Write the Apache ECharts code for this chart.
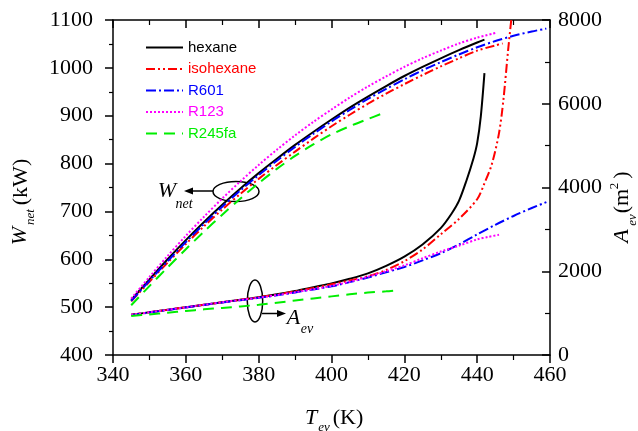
<!DOCTYPE html>
<html>
<head>
<meta charset="utf-8">
<script src="https://cdn.jsdelivr.net/npm/echarts@6/dist/echarts.min.js"></script>
<style>html,body{margin:0;padding:0;background:#fff}#c{width:638px;height:431px}</style>
</head>
<body>
<div id="c"></div>
<script>
// ---- data (T_ev in K) ----
const xTicks = [340, 360, 380, 400, 420, 440, 460];
const wTicks = [400, 500, 600, 700, 800, 900, 1000, 1100];
const aTicks = [0, 2000, 4000, 6000, 8000];
const fluids = ['hexane', 'isohexane', 'R601', 'R123', 'R245fa'];

// W_net (kW) vs T_ev
const hexaneW = [[345,515],[350,558],[355,600],[360,640],[365,678],[370,714],[375,748],[380,780],[385,810],[390,839],[395,866],[400,892],[405,917],[410,940],[415,962],[420,983],[425,1002],[430,1020],[435,1037],[440,1053],[442,1059]];
const isohexaneW = [[345,512],[350,553],[355,593],[360,632],[365,669],[370,704],[375,737],[380,768],[385,797],[390,825],[395,852],[400,878],[405,902],[410,925],[415,946],[420,966],[425,985],[430,1003],[435,1020],[440,1036],[445,1047],[447,1051]];
const r601W = [[345,513],[350,555],[355,596],[360,636],[365,674],[370,710],[375,744],[380,776],[385,806],[390,835],[395,862],[400,888],[405,912],[410,935],[415,956],[420,976],[425,995],[430,1012],[435,1028],[440,1043],[445,1056],[450,1067],[455,1076],[459,1082]];
const r123W = [[345,518],[350,563],[355,607],[360,649],[365,689],[370,727],[375,763],[380,797],[385,829],[390,859],[395,887],[400,913],[405,938],[410,961],[415,982],[420,1002],[425,1020],[430,1036],[435,1051],[440,1063],[445,1073]];
const r245faW = [[345,504],[350,544],[355,583],[360,621],[365,658],[370,693],[375,727],[380,759],[385,789],[390,816],[395,840],[400,861],[405,878],[410,893],[414,905]];

// A_ev (m^2) vs T_ev
const hexaneA = [[345,960],[350,1020],[355,1080],[360,1140],[365,1200],[370,1260],[375,1320],[380,1380],[385,1450],[390,1530],[395,1620],[400,1710],[405,1820],[410,1950],[415,2130],[420,2350],[425,2640],[430,3030],[433,3380],[435,3680],[437,4150],[439,4700],[440,5060],[441,5700],[442,6730]];
const isohexaneA = [[345,960],[350,1020],[355,1080],[360,1140],[365,1200],[370,1260],[375,1320],[380,1380],[385,1445],[390,1520],[395,1600],[400,1690],[405,1780],[410,1880],[415,2030],[420,2240],[425,2520],[430,2880],[435,3250],[440,3720],[442,4100],[444,4550],[446,5300],[447.2,6090],[448.5,7280],[449.6,8200]];
const r601A = [[345,955],[350,1015],[355,1075],[360,1135],[365,1195],[370,1255],[375,1310],[380,1365],[385,1425],[390,1495],[395,1565],[400,1640],[405,1740],[410,1850],[415,1975],[420,2100],[425,2260],[430,2430],[435,2640],[440,2880],[445,3110],[450,3320],[455,3510],[459,3650]];
const r123A = [[345,960],[350,1020],[355,1080],[360,1140],[365,1200],[370,1260],[375,1315],[380,1370],[385,1430],[390,1500],[395,1570],[400,1650],[405,1750],[410,1870],[415,2000],[420,2140],[425,2310],[430,2470],[435,2610],[440,2760],[443,2820],[446,2870]];
const r245faA = [[345,930],[350,970],[355,1010],[360,1050],[365,1090],[370,1125],[375,1160],[380,1200],[385,1250],[390,1300],[395,1350],[400,1400],[405,1450],[410,1490],[415,1520],[417,1536]];

// ---- styles ----
const colors = {hexane:'#000000', isohexane:'#ff0000', R601:'#0000ff', R123:'#ff00ff', R245fa:'#00ee00'};
const dashes = {hexane:'solid', isohexane:[9,3,2,3,2,3], R601:[10,3,2,3], R123:[2,2], R245fa:[11,7]};
const wData = {hexane:hexaneW, isohexane:isohexaneW, R601:r601W, R123:r123W, R245fa:r245faW};
const aData = {hexane:hexaneA, isohexane:isohexaneA, R601:r601A, R123:r123A, R245fa:r245faA};

const serif = '"Liberation Serif", "Times New Roman", serif';
const sans = '"Liberation Sans", Arial, sans-serif';

const series = [];
fluids.forEach(f => {
  const base = {type:'line', name:f, showSymbol:false, symbol:'none', smooth:0.3,
    lineStyle:{color:colors[f], width:2, type:dashes[f]}, itemStyle:{color:colors[f]}, animation:false, clip:true};
  series.push(Object.assign({}, base, {xAxisIndex:0, yAxisIndex:0, data:wData[f]}));
  series.push(Object.assign({}, base, {xAxisIndex:0, yAxisIndex:1, data:aData[f]}));
});

const axisLine = {show:true, lineStyle:{color:'#000', width:1.5}};
const plain = v => String(v);
const chart = echarts.init(document.getElementById('c'), null, {renderer:'canvas'});

function txt(x, y, s, font, rot, align) {
  return {type:'text', x:x, y:y, rotation:rot||0, style:{text:s, font:font, fill:'#000', align:align||'center', verticalAlign:'middle'}, silent:true};
}
const R = Math.PI/2;

chart.setOption({
  animation:false,
  grid:{left:113, right:88, top:20, bottom:76},
  legend:{
    orient:'vertical', left:145, top:40, itemWidth:37, itemHeight:14, itemGap:6.5,
    itemStyle:{opacity:0, borderWidth:0},
    data: fluids.map(f => ({name:f, textStyle:{color:colors[f], fontFamily:sans, fontSize:15}})),
    textStyle:{fontFamily:sans, fontSize:15}, padding:0
  },
  xAxis:[
    {type:'value', min:xTicks[0], max:xTicks[xTicks.length-1], interval:20, position:'bottom',
     axisLine:axisLine, splitLine:{show:false},
     axisTick:{show:true, inside:false, length:8, lineStyle:{color:'#000', width:1.5}},
     minorTick:{show:true, splitNumber:2, length:5, lineStyle:{color:'#000', width:1.2}},
     axisLabel:{fontFamily:serif, fontSize:22, color:'#000', margin:9, formatter:plain}},
    {type:'value', min:xTicks[0], max:xTicks[xTicks.length-1], interval:20, position:'top',
     axisLine:axisLine, splitLine:{show:false},
     axisTick:{show:true, inside:true, length:8, lineStyle:{color:'#000', width:1.5}},
     minorTick:{show:true, splitNumber:2, length:5, lineStyle:{color:'#000', width:1.2}},
     axisLabel:{show:false}}
  ],
  yAxis:[
    {type:'value', min:wTicks[0], max:wTicks[wTicks.length-1], interval:100, position:'left',
     axisLine:axisLine, splitLine:{show:false},
     axisTick:{show:true, inside:false, length:8, lineStyle:{color:'#000', width:1.5}},
     minorTick:{show:true, splitNumber:2, length:4, lineStyle:{color:'#000', width:1.2}},
     axisLabel:{fontFamily:serif, fontSize:22, color:'#000', margin:20, formatter:plain}},
    {type:'value', min:aTicks[0], max:aTicks[aTicks.length-1], interval:2000, position:'right',
     axisLine:axisLine, splitLine:{show:false},
     axisTick:{show:true, inside:true, length:8, lineStyle:{color:'#000', width:1.5}},
     minorTick:{show:true, splitNumber:2, length:5, lineStyle:{color:'#000', width:1.2}},
     axisLabel:{fontFamily:serif, fontSize:22, color:'#000', margin:8, formatter:plain}}
  ],
  series: series,
  graphic:[
    // axis titles
    txt(20, 236, 'W', 'italic 22px ' + serif, R),
    txt(31, 217, 'net', 'italic 13px ' + serif, R),
    txt(21, 182, '(kW)', '22px ' + serif, R),
    txt(622, 236, 'A', 'italic 22px ' + serif, R),
    txt(633, 220, 'ev', 'italic 13px ' + serif, R),
    txt(622, 201, '(m', '22px ' + serif, R),
    txt(615, 186, '2', '13px ' + serif, R),
    txt(622, 175, ')', '22px ' + serif, R),
    txt(311, 418, 'T', 'italic 22px ' + serif, 0),
    txt(324, 428, 'ev', 'italic 13px ' + serif, 0),
    txt(348, 418, '(K)', '22px ' + serif, 0),
    // W_net annotation
    {type:'ellipse', shape:{cx:236, cy:191.5, rx:23, ry:10}, style:{fill:null, stroke:'#000', lineWidth:1.5}, silent:true},
    {type:'line', shape:{x1:213, y1:191, x2:190, y2:191}, style:{stroke:'#000', lineWidth:1.5}, silent:true},
    {type:'polygon', shape:{points:[[184,191],[193,187.5],[193,194.5]]}, style:{fill:'#000'}, silent:true},
    txt(167, 191, 'W', 'italic 22px ' + serif, 0),
    txt(184, 204, 'net', 'italic 14px ' + serif, 0),
    // A_ev annotation
    {type:'ellipse', shape:{cx:255, cy:301, rx:7.7, ry:21}, style:{fill:null, stroke:'#000', lineWidth:1.5}, silent:true},
    {type:'line', shape:{x1:262, y1:313.5, x2:280, y2:313.5}, style:{stroke:'#000', lineWidth:1.5}, silent:true},
    {type:'polygon', shape:{points:[[286,313.5],[277,310],[277,317]]}, style:{fill:'#000'}, silent:true},
    txt(293.5, 318, 'A', 'italic 22px ' + serif, 0),
    txt(307, 329, 'ev', 'italic 14px ' + serif, 0)
  ]
});
</script>
</body>
</html>
